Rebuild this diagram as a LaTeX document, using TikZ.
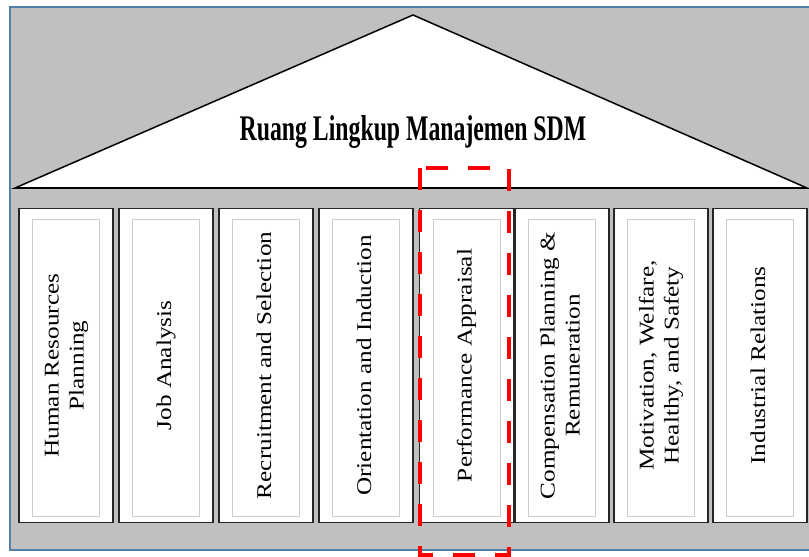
\documentclass[tikz,border=0pt]{standalone}
\usepackage{fontspec}
\setmainfont{Liberation Serif}
\definecolor{bgGray}{RGB}{192, 192, 192}
\definecolor{frameBlue}{RGB}{84, 126, 170}
\definecolor{innerGray}{RGB}{205, 205, 205}
\definecolor{markRed}{RGB}{255, 0, 0}

% rotated pillar captions are set a little wide
\newcommand{\pillarText}[1]{\scalebox{1.2}[1]{\fontsize{21}{25}\selectfont
    \begin{tabular}{@{}c@{}}#1\end{tabular}}}

\begin{document}
\begin{tikzpicture}[
    x=1pt, y=-1pt,
    roof/.style={fill=white, draw=black, line width=1.5pt, line join=miter},
    pillar/.style={draw=black!85, line width=1.6pt, fill=white,
        minimum width=94pt, minimum height=314pt, inner sep=0pt},
    pillar inner/.style={draw=innerGray, line width=1pt,
        minimum width=67pt, minimum height=297pt, inner sep=0pt},
    pillar label/.style={rotate=90, inner sep=0pt},
    focus box/.style={draw=markRed, line width=4pt,
        dash pattern=on 22pt off 20pt},
]

% ---- layout parameters ----
\def\yRoof{188}     % eave line
\def\yApex{15}      % top of the roof
\def\yCol{365.5}    % centre of the pillars
\def\yInner{367.5}  % centre of the inner boxes

\useasboundingbox (0,0) rectangle (809,557);

% ---- background panel ----
\fill[bgGray] (10,7) rectangle (809,550);
\draw[frameBlue, line width=2pt] (809,7) -- (10,7) -- (10,550) -- (809,550);

% ---- roof ----
\coordinate (eaveL) at (15,\yRoof);
\coordinate (eaveR) at (807,\yRoof);
\coordinate (apex)  at (413,\yApex);
\draw[roof] (eaveL) -- (apex) -- (eaveR) -- cycle;
\draw[line width=2.4pt] (eaveL) -- (eaveR);

\node[anchor=base] (title) at (413,140)
    {\scalebox{0.66}[1]{\fontsize{36}{40}\selectfont\bfseries
     Ruang Lingkup Manajemen SDM}};

% ---- pillars ----
\foreach \cx/\txt [count=\i] in {
    66/{Human Resources\\Planning},
    166/{Job Analysis},
    266/{Recruitment and Selection},
    366/{Orientation and Induction},
    466.5/{Performance Appraisal},
    562/{Compensation Planning \&\\Remuneration},
    661/{Motivation, Welfare,\\Healthy, and Safety},
    760/{Industrial Relations}} {
    \node[pillar] (col\i) at (\cx,\yCol) {};
    \node[pillar inner] (colIn\i) at (\cx,\yInner) {};
    \node[pillar label] (colTxt\i) at (\cx,\yCol) {\pillarText{\txt}};
}

% ---- highlighted pillar ----
\draw[focus box] (420,168) rectangle (509,555);

\end{tikzpicture}
\end{document}
